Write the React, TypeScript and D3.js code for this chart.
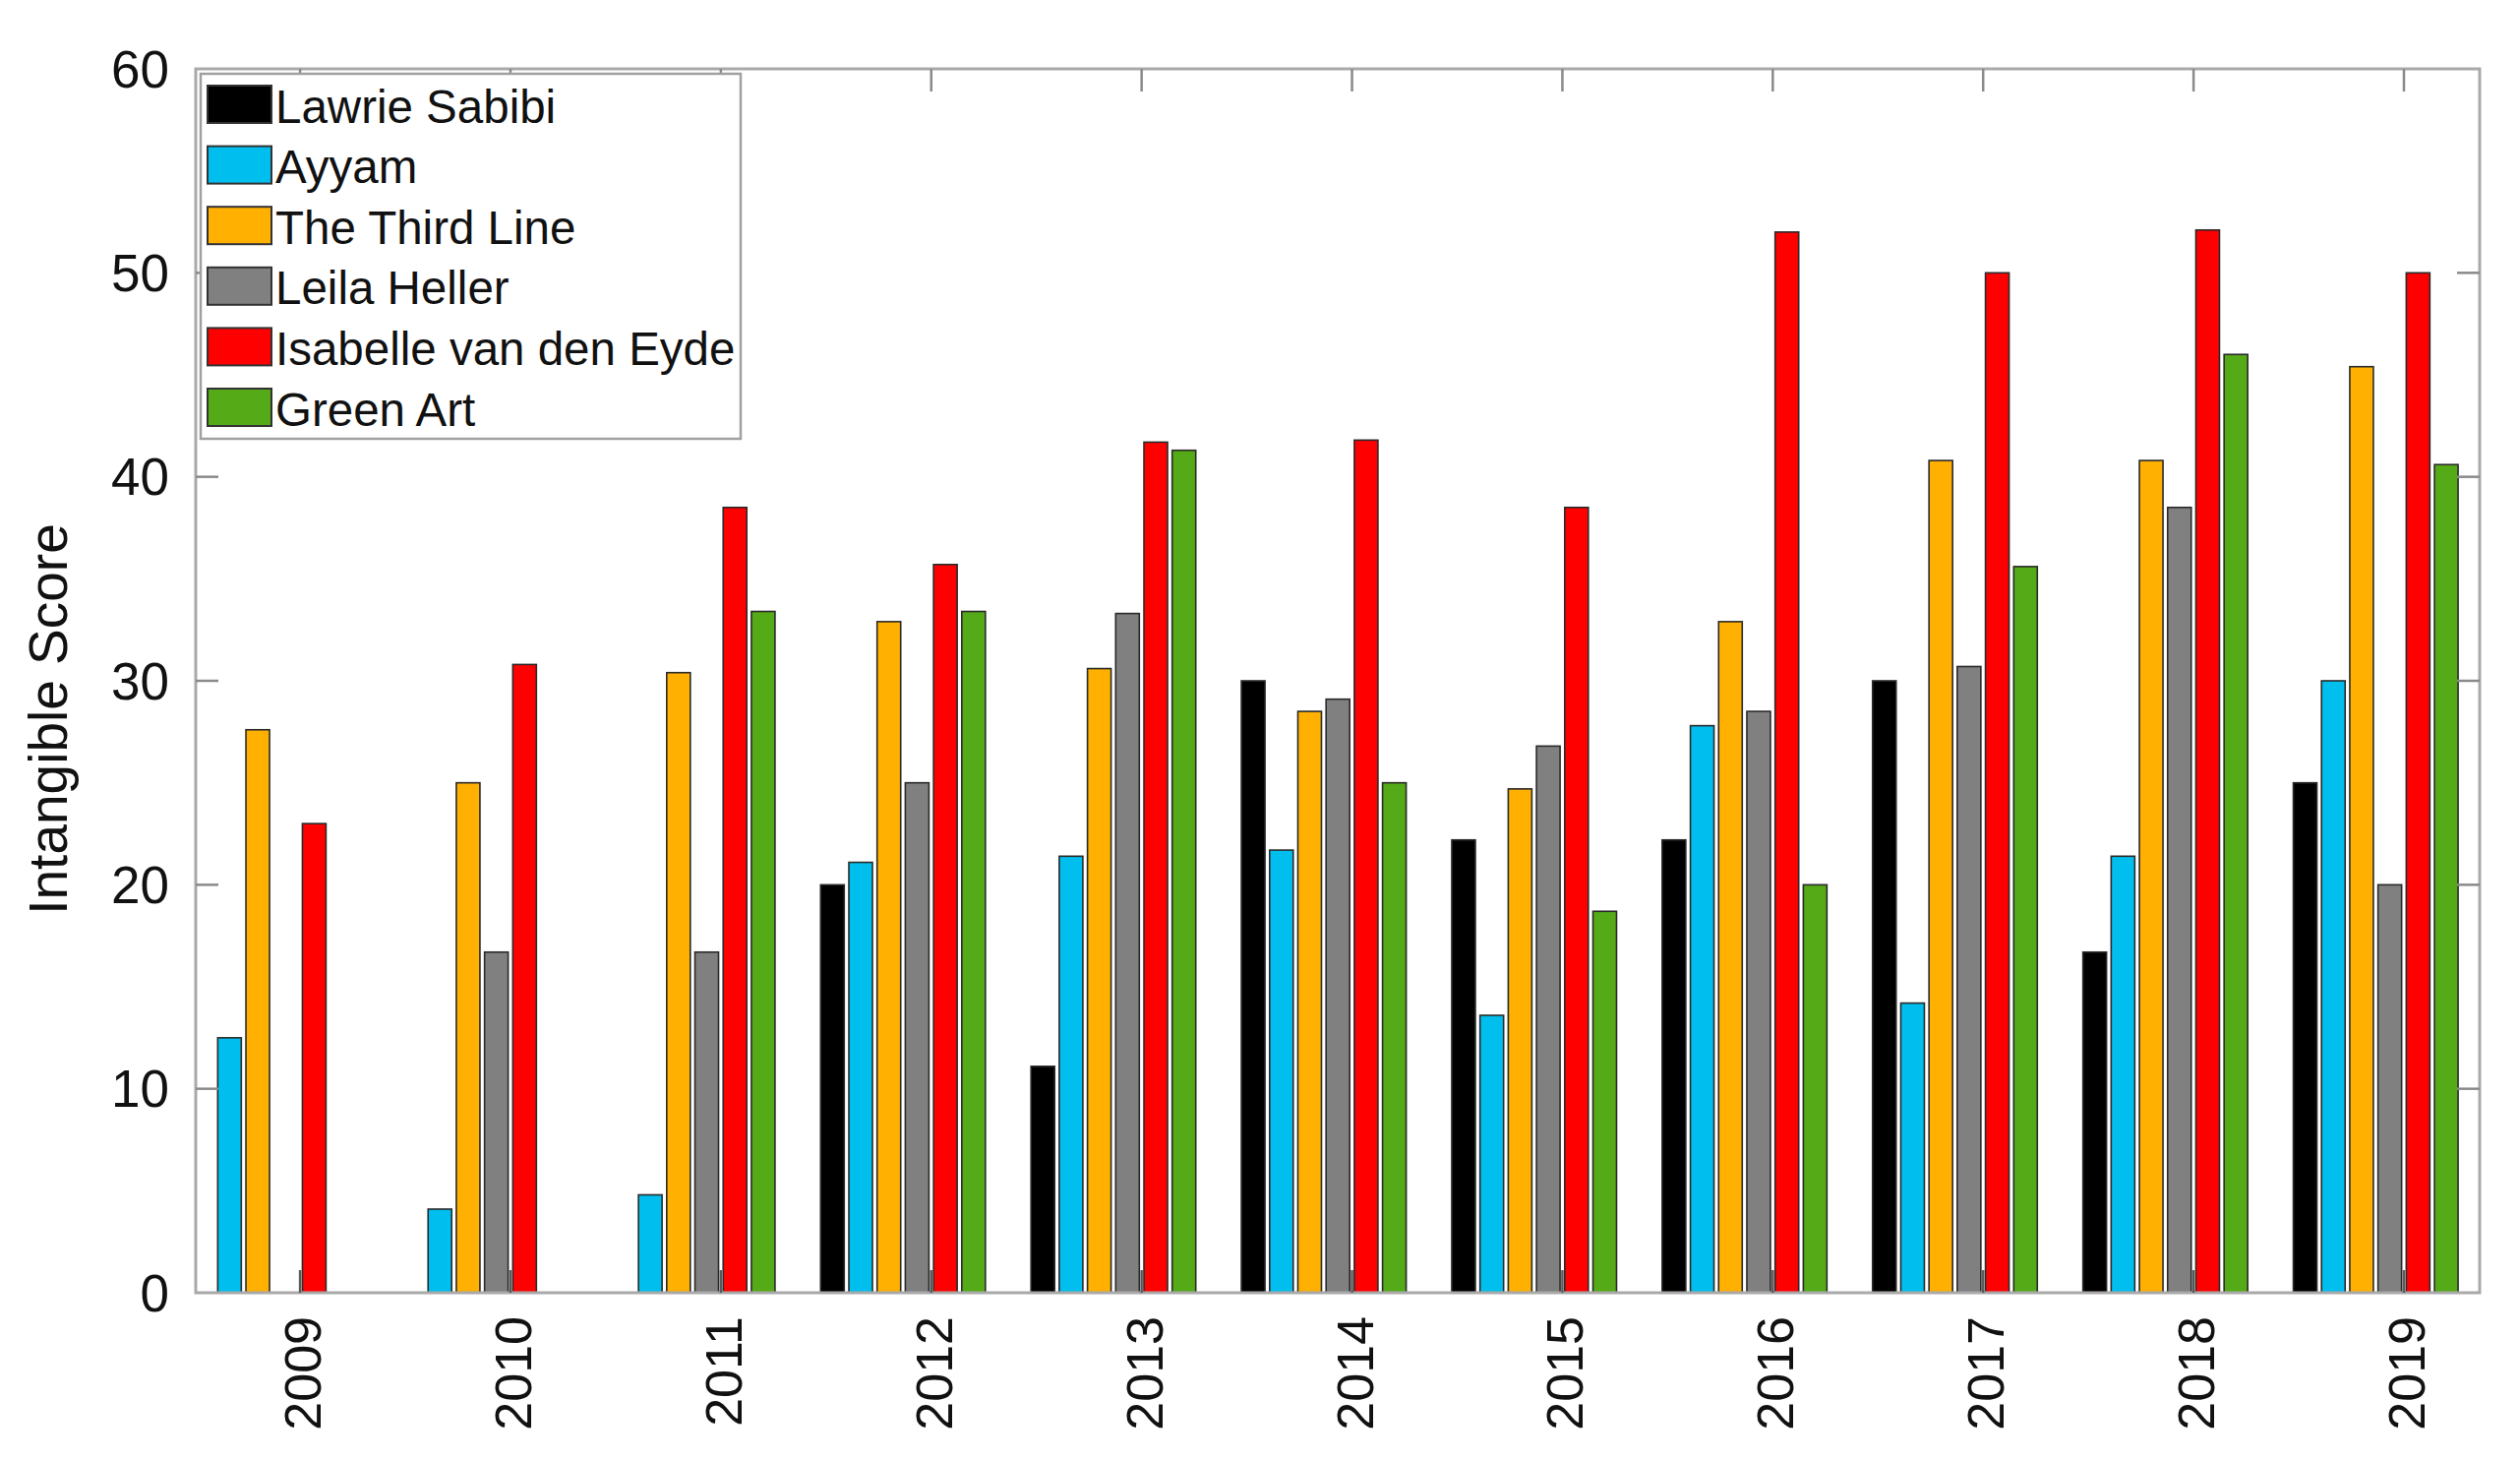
import React from "react";
import * as d3 from "d3";

const years = ["2009", "2010", "2011", "2012", "2013", "2014", "2015", "2016", "2017", "2018", "2019"];
const seriesNames = ["Lawrie Sabibi", "Ayyam", "The Third Line", "Leila Heller", "Isabelle van den Eyde", "Green Art"];
const seriesColors = ["#000000", "#00BEEE", "#FFB000", "#808080", "#FF0000", "#55AA17"];

const lawrieSabibi = [0, 0, 0, 20, 11.1, 30, 22.2, 22.2, 30, 16.7, 25];
const ayyam = [12.5, 4.1, 4.8, 21.1, 21.4, 21.7, 13.6, 27.8, 14.2, 21.4, 30];
const theThirdLine = [27.6, 25, 30.4, 32.9, 30.6, 28.5, 24.7, 32.9, 40.8, 40.8, 45.4];
const leilaHeller = [0, 16.7, 16.7, 25, 33.3, 29.1, 26.8, 28.5, 30.7, 38.5, 20];
const isabelleVanDenEyde = [23, 30.8, 38.5, 35.7, 41.7, 41.8, 38.5, 52, 50, 52.1, 50];
const greenArt = [0, 0, 33.4, 33.4, 41.3, 25, 18.7, 20, 35.6, 46, 40.6];

const yTicks = [0, 10, 20, 30, 40, 50, 60];

const series = [lawrieSabibi, ayyam, theThirdLine, leilaHeller, isabelleVanDenEyde, greenArt];

const W = 2562;
const H = 1484;
const L = 199, R = 2521, T = 70, B = 1314;
const FONT = "'Liberation Sans', Arial, Helvetica, sans-serif";

export default function App() {
  const x = d3.scaleLinear().domain([0.504, 11.36]).range([L, R]);
  const y = d3.scaleLinear().domain([0, 60]).range([B, T]);
  const spacing = 0.1342;
  const bw = 0.1122;
  const unit = x(1) - x(0);
  const tickLen = 23;

  return (
    <svg width={W} height={H} style={{ position: "absolute", left: 0, top: 0, background: "#fff" }} fontFamily={FONT}>
      <rect x={0} y={0} width={W} height={H} fill="#fff" />
      {/* bars */}
      {series.map((vals, s) => (
        <g key={s}>
          {vals.map((v, i) => {
            if (v <= 0) return null;
            const cx = x(i + 1 + (s - 3.5) * spacing);
            const w = bw * unit;
            return (
              <rect
                key={i}
                x={cx - w / 2}
                y={y(v)}
                width={w}
                height={y(0) - y(v)}
                fill={seriesColors[s]}
                stroke="#2a2a2a"
                strokeWidth={1.6}
              />
            );
          })}
        </g>
      ))}
      {/* axes box */}
      <rect x={L} y={T} width={R - L} height={B - T} fill="none" stroke="#a9a9a9" strokeWidth={3} />
      {/* y ticks */}
      {yTicks.map((t) => (
        <g key={t}>
          {t > 0 && t < 60 && (
            <>
              <line x1={L} x2={L + tickLen} y1={y(t)} y2={y(t)} stroke="#8a8a8a" strokeWidth={2.5} />
              <line x1={R} x2={R - tickLen} y1={y(t)} y2={y(t)} stroke="#8a8a8a" strokeWidth={2.5} />
            </>
          )}
          <text x={172} y={y(t)} textAnchor="end" dominantBaseline="central" fontSize={53} fill="#111">
            {t}
          </text>
        </g>
      ))}
      {/* x ticks */}
      {years.map((yr, i) => (
        <g key={yr}>
          <line x1={x(i + 1)} x2={x(i + 1)} y1={B} y2={B - tickLen} stroke="#5a5a5a" strokeWidth={2.5} />
          <line x1={x(i + 1)} x2={x(i + 1)} y1={T} y2={T + tickLen} stroke="#8a8a8a" strokeWidth={2.5} />
          <text
            transform={`translate(${x(i + 1) + 3},${B + 24}) rotate(-90)`}
            textAnchor="end"
            dominantBaseline="central"
            fontSize={52}
            fill="#111"
          >
            {yr}
          </text>
        </g>
      ))}
      {/* y label */}
      <text transform={`translate(68,731) rotate(-90)`} textAnchor="middle" fontSize={55} fill="#111">
        Intangible Score
      </text>
      {/* legend */}
      <rect x={204} y={75} width={549} height={371} fill="#fff" stroke="#a0a0a0" strokeWidth={2.5} />
      {seriesNames.map((name, s) => {
        const cy = 106 + s * 61.6;
        return (
          <g key={name}>
            <rect x={211} y={cy - 19} width={65} height={38} fill={seriesColors[s]} stroke="#333" strokeWidth={2} />
            <text x={280} y={cy + 2} dominantBaseline="central" fontSize={47.5} fill="#111">
              {name}
            </text>
          </g>
        );
      })}
    </svg>
  );
}
